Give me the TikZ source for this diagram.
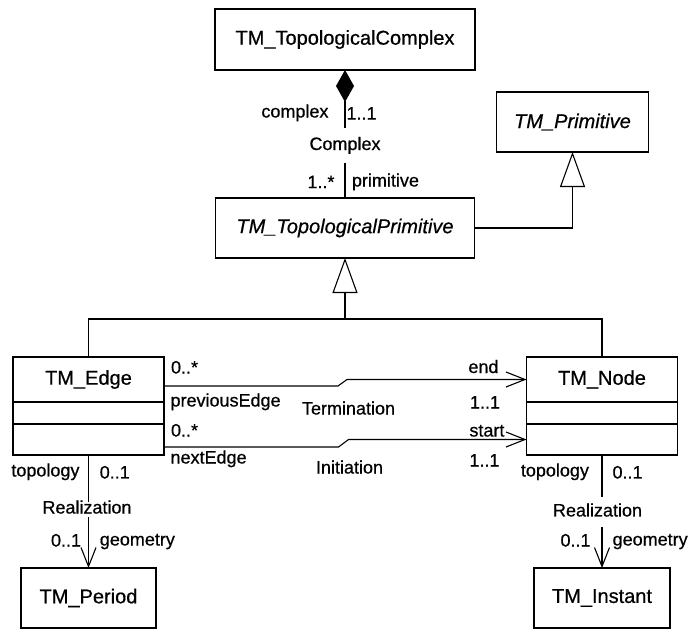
\documentclass[tikz,border=0pt]{standalone}
\usepackage{fontspec}
\setmainfont{Liberation Sans}[FakeBold=0.6]
\usetikzlibrary{arrows.meta,positioning}

\begin{document}
\begin{tikzpicture}[
  x=1pt, y=1pt,
  line width=1.1pt,
  every node/.style={font=\fontsize{18}{21}\selectfont},
  cls/.style={draw,rectangle,outer sep=0pt,minimum width=151pt,font=\fontsize{20}{24}\selectfont},
  lbl/.style={inner sep=1pt,text height=13pt,text depth=4pt},
  gen/.style={-{Triangle[open,length=35pt,width=25pt]}},
  comp/.style={{Diamond[length=32pt,width=18pt]}-},
  nav/.style={-{Straight Barb[length=19pt,width=15pt]}}
]
\useasboundingbox (0,0) rectangle (690,-629);

\node[cls,minimum width=260pt,minimum height=61pt] (cplx) at (345,-39.5) {TM\_TopologicalComplex};
\node[cls,minimum width=259pt,minimum height=60pt,below=128pt of cplx] (prim) {\itshape TM\_TopologicalPrimitive};
\node[cls,minimum width=152pt,minimum height=60pt,above right=46pt and 22pt of prim] (tmprim) {\itshape TM\_Primitive};

\node[cls,minimum height=45pt,below left=99pt and 51.5pt of prim] (edge) {TM\_Edge};
\node[cls,minimum height=22pt,below=0pt of edge] (edgeattr) {};
\node[cls,minimum height=31pt,below=0pt of edgeattr] (edgeops) {};
\node[cls,minimum height=45pt,below right=99pt and 52pt of prim] (tmnode) {TM\_Node};
\node[cls,minimum height=22pt,below=0pt of tmnode] (nodeattr) {};
\node[cls,minimum height=31pt,below=0pt of nodeattr] (nodeops) {};

\node[cls,minimum width=135pt,minimum height=60pt,below=113pt of edgeops] (period) {TM\_Period};
\node[cls,minimum width=136pt,minimum height=60pt,below=113pt of nodeops] (instant) {TM\_Instant};

\coordinate[below=61pt of prim] (fork);

\draw[comp] (cplx) -- (prim)
  node[lbl,pos=.336,anchor=east,xshift=-15pt] {complex}
  node[lbl,pos=.352,anchor=west] {1..1}
  node[lbl,pos=.59,fill=white,minimum height=35.6pt] {Complex}
  node[lbl,pos=.888,anchor=east,xshift=-9pt] {1..*}
  node[lbl,pos=.875,anchor=west,xshift=5.4pt] {primitive};
\draw[gen] (prim) -| (tmprim);
\draw (edge) |- (fork) -| (tmnode);
\draw[gen] (fork) -- (prim);

\draw[nav] ([yshift=-6.5pt]edge.east)
  node[lbl,anchor=west,xshift=5.5pt,yshift=17pt] {0..*}
  node[lbl,anchor=west,xshift=5pt,yshift=-16pt] {previousEdge}
  -- ++(174,0) node[lbl,xshift=10.5pt,yshift=-24pt] {Termination}
  -- ++(9,6.5) -- (tmnode.west)
  node[lbl,anchor=east,xshift=-26.5pt,yshift=11pt] {end}
  node[lbl,anchor=east,xshift=-25pt,yshift=-24.5pt] {1..1};
\draw[nav] ([yshift=-7.5pt]edgeops.east)
  node[lbl,anchor=west,xshift=5.5pt,yshift=15pt] {0..*}
  node[lbl,anchor=west,xshift=5pt,yshift=-12pt] {nextEdge}
  -- ++(174.5,0) node[lbl,xshift=11pt,yshift=-22pt] {Initiation}
  -- ++(10,7.5) -- (nodeops.west)
  node[lbl,anchor=east,xshift=-20.5pt,yshift=7.5pt] {start}
  node[lbl,anchor=east,xshift=-25.5pt,yshift=-22.5pt] {1..1};

\draw[nav] (edgeops) -- (period)
  node[lbl,pos=.15,anchor=east,xshift=-7.5pt] {topology}
  node[lbl,pos=.168,anchor=west,xshift=9.7pt] {0..1}
  node[lbl,pos=.478,xshift=-1.5pt,fill=white,inner ysep=0pt,text height=12pt,text depth=3pt] {Realization}
  node[lbl,pos=.77,anchor=east,xshift=-5.9pt] {0..1}
  node[lbl,pos=.761,anchor=west,xshift=9.8pt] {geometry};
\draw[nav] (nodeops) -- (instant)
  node[lbl,pos=.15,anchor=east,xshift=-11.5pt] {topology}
  node[lbl,pos=.168,anchor=west,xshift=9pt] {0..1}
  node[lbl,pos=.504,xshift=-4.5pt,fill=white,minimum height=30pt] {Realization}
  node[lbl,pos=.77,anchor=east,xshift=-9.9pt] {0..1}
  node[lbl,pos=.761,anchor=west,xshift=9.1pt] {geometry};
\end{tikzpicture}
\end{document}
